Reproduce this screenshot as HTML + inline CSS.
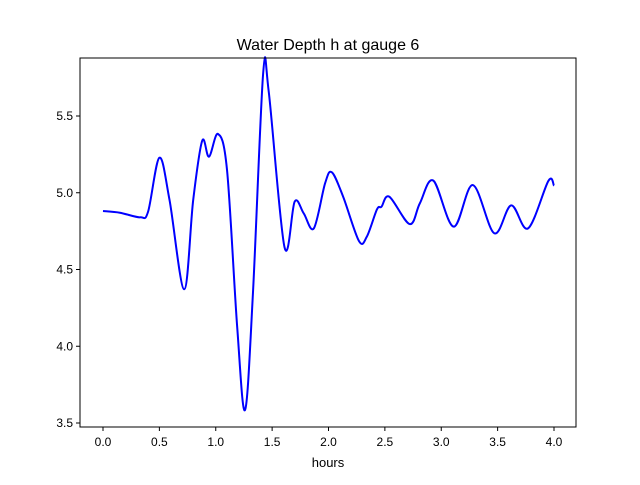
<!DOCTYPE html>
<html><head><meta charset="utf-8"><style>
body{margin:0;background:#fff;font-family:"Liberation Sans","DejaVu Sans",sans-serif}
</style></head><body>
<svg id="c" width="640" height="480" xmlns="http://www.w3.org/2000/svg">
<rect width="640" height="480" fill="#fff"/>
<text x="328" y="50" font-size="16" text-anchor="middle">Water Depth h at gauge 6</text>
<text x="328" y="467" font-size="13" text-anchor="middle">hours</text>
<g id="ticks"></g>
<path id="line" fill="none" stroke="#0000ff" stroke-width="2"/>
<rect x="80" y="58" width="496" height="369" fill="none" stroke="#000" stroke-width="1"/>
</svg>
<script>
const xVals=[0.0,0.15,0.33,0.40,0.50,0.59,0.72,0.80,0.88,0.94,1.02,1.10,1.19,1.26,1.33,1.42,1.47,1.61,1.70,1.78,1.87,1.97,2.03,2.13,2.27,2.34,2.43,2.47,2.54,2.72,2.81,2.93,3.11,3.28,3.47,3.62,3.77,3.95,4.0];
const yVals=[4.881,4.870,4.840,4.877,5.228,4.953,4.371,4.953,5.339,5.235,5.383,5.148,4.127,3.585,4.347,5.774,5.658,4.645,4.942,4.866,4.768,5.062,5.133,4.974,4.686,4.714,4.892,4.909,4.974,4.796,4.931,5.079,4.779,5.050,4.736,4.918,4.768,5.077,5.046];
const xTicks=[0,0.5,1,1.5,2,2.5,3,3.5,4];
const yTicks=[3.5,4.0,4.5,5.0,5.5];
const X=v=>103+(v-0)*112.75;
const Y=v=>116+(5.5-v)*153.5;
const NS="http://www.w3.org/2000/svg";
const g=document.getElementById('ticks');
function mk(t,a){const e=document.createElementNS(NS,t);for(const k in a)e.setAttribute(k,a[k]);g.appendChild(e);return e;}
xTicks.forEach(v=>{
 const l=mk('line',{x1:X(v),x2:X(v),y1:427,y2:431,stroke:'#000'});
 
 
 const t=mk('text',{x:X(v),y:446,'font-size':12,'text-anchor':'middle'});t.textContent=v.toFixed(1);
 
 
});
yTicks.forEach(v=>{
 const l=mk('line',{x1:76,x2:80,y1:Y(v),y2:Y(v),stroke:'#000'});
 
 
 const t=mk('text',{x:73,y:Y(v)+4,'font-size':12,'text-anchor':'end'});t.textContent=v.toFixed(1);
 
 
});
const P=xVals.map((x,i)=>[X(x),Y(yVals[i])]);
let d='M'+P[0][0]+','+P[0][1];
for(let i=0;i<P.length-1;i++){
 const p0=P[Math.max(i-1,0)],p1=P[i],p2=P[i+1],p3=P[Math.min(i+2,P.length-1)];
 const c1=[p1[0]+(p2[0]-p0[0])/6,p1[1]+(p2[1]-p0[1])/6];
 const c2=[p2[0]-(p3[0]-p1[0])/6,p2[1]-(p3[1]-p1[1])/6];
 d+=' C'+c1+' '+c2+' '+p2;
}
document.getElementById('line').setAttribute('d',d);
</script>
</body></html>
